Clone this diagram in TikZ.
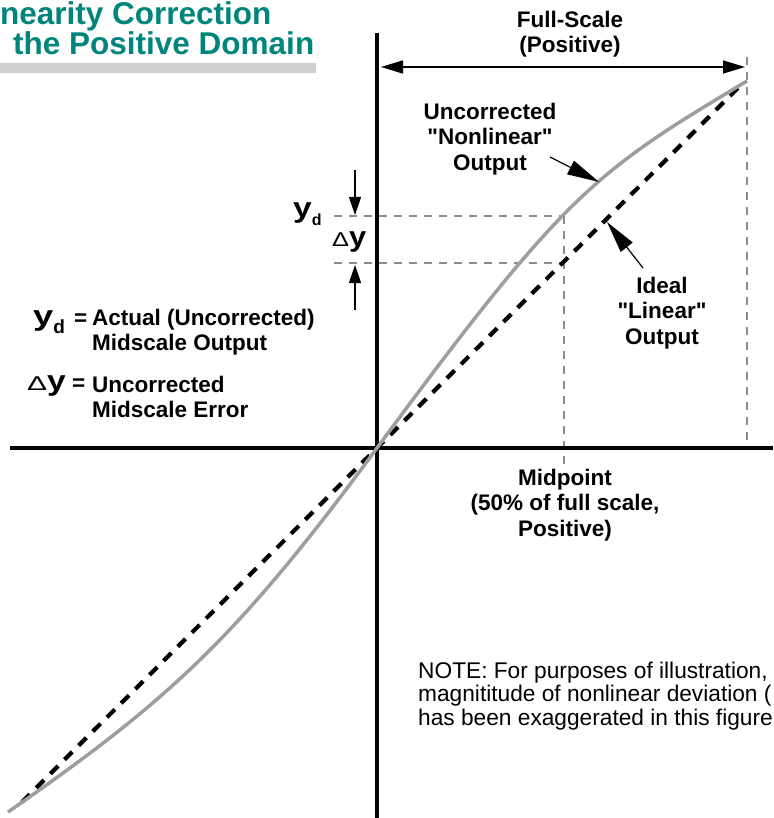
\documentclass[tikz,border=0pt]{standalone}
\usepackage{fontspec}
\setmainfont{Liberation Sans}[Ligatures=TeXOff]
\usepackage{graphicx}
\usetikzlibrary{arrows.meta}
\definecolor{titleteal}{RGB}{0,133,122}
\definecolor{barg}{RGB}{206,206,206}
\definecolor{curveg}{RGB}{158,158,158}
\definecolor{guideg}{RGB}{140,140,140}
\begin{document}
\begin{tikzpicture}[x=1pt,y=-1pt,
  lbl/.style={font=\fontsize{22.5}{25.5}\selectfont\bfseries, align=center, inner sep=0pt},
  legtext/.style={font=\fontsize{22.5}{25}\selectfont\bfseries, align=left, inner sep=0pt},
  sym/.style={font=\bfseries, inner sep=0pt},
  titletext/.style={font=\fontsize{31.5}{31.5}\selectfont\bfseries, text=titleteal, inner sep=0pt},
  notetext/.style={font=\fontsize{22.7}{23.5}\selectfont, align=left, inner sep=0pt},
  axisline/.style={line width=3.5pt},
  guide/.style={draw=guideg, line width=1.4pt, dash pattern=on 8pt off 7pt},
  idealline/.style={line width=4.2pt, dash pattern=on 11pt off 9pt},
  nonlin/.style={draw=curveg, line width=3.5pt},
  pointer/.style={line width=1.2pt, -{Triangle[length=32pt,width=15pt]}},
  dimarrow/.style={line width=1.2pt, -{Triangle[length=18pt,width=12pt]}},
  fsarrow/.style={line width=1.5pt, {Triangle[length=22pt,width=13pt]}-{Triangle[length=22pt,width=13pt]}}
]
\useasboundingbox (0,0) rectangle (773,818);
\clip (0,0) rectangle (773,818);

% title
\node[titletext, anchor=base west] (title1) at (0,25) {nearity Correction};
\node[titletext, anchor=base west] (title2) at (13,55) {the Positive Domain};
\fill[barg] (0,63) rectangle (316,73);

% guide lines
\coordinate (fsTop) at (747,57);
\coordinate (fsAxis) at (747,448);
\coordinate (midTop) at (564,216);
\coordinate (midBot) at (564,466);
\coordinate (ydL) at (334,216);
\coordinate (ideL) at (334,263);
\coordinate (ideR) at (564,263);
\draw[guide] (fsTop) -- (fsAxis);
\draw[guide] (midTop) -- (midBot);
\draw[guide] (ydL) -- (midTop);
\draw[guide] (ideL) -- (ideR);

% axes
\coordinate (vTop) at (377,33);
\coordinate (vBot) at (377,820);
\coordinate (hL) at (10,448);
\coordinate (hR) at (775,448);
\draw[axisline] (vTop) -- (vBot);
\draw[axisline] (hL) -- (hR);

% ideal line
\coordinate (idealA) at (22,802);
\coordinate (idealB) at (740,86);
\draw[idealline] (idealA) -- (idealB);

% nonlinear curve
\coordinate (curveS) at (8,812);
\coordinate (curveO) at (377,448);
\coordinate (curveE) at (747,81);
\draw[nonlin] (curveS) .. controls (168,701) and (237,638.4) .. (curveO)
  .. controls (567,189.6) and (597,171) .. (curveE);

% full scale arrow
\coordinate (fsL) at (381,67);
\coordinate (fsR) at (745,67);
\draw[fsarrow] (fsL) -- (fsR);
\node[lbl, anchor=north] (fslab) at (570,10.6) {Full-Scale\\(Positive)};

% nonlinear label and pointer
\node[lbl, anchor=north] (nllab) at (490,102.6) {Uncorrected\\"Nonlinear"\\Output};
\coordinate (nlTail) at (550,157);
\coordinate (nlTip) at (599,182);
\draw[pointer] (nlTail) -- (nlTip);

% ideal label and pointer
\node[lbl, anchor=north] (idlab) at (662,276.6) {Ideal\\"Linear"\\Output};
\coordinate (idTail) at (643,268);
\coordinate (idTip) at (607,222);
\draw[pointer] (idTail) -- (idTip);

% midpoint label
\node[lbl, anchor=north] (midlab) at (565,468.6) {Midpoint\\(50\% of full scale,\\Positive)};

% yd and delta y near axis
\coordinate (dnTail) at (355,170);
\coordinate (dnTip) at (355,215);
\coordinate (upTail) at (355,310);
\coordinate (upTip) at (355,265);
\draw[dimarrow] (dnTail) -- (dnTip);
\draw[dimarrow] (upTail) -- (upTip);
\node[sym, anchor=base west] (ydax) at (293,218) {{\fontsize{28}{28}\selectfont\scalebox{1.2}[1]{y}}\raisebox{-8pt}{\fontsize{16}{16}\selectfont d}};
\node[sym, anchor=base west] (dyax) at (332,247) {{\fontsize{20}{20}\selectfont\mdseries\scalebox{1.27}[1]{Δ}}{\fontsize{28}{28}\selectfont\scalebox{1.1}[1]{y}}};

% legend
\node[sym, anchor=base west] (legyd) at (33,325) {{\fontsize{28}{28}\selectfont\scalebox{1.3}[1]{y}}\raisebox{-8pt}{\fontsize{19}{19}\selectfont d}};
\node[sym, anchor=base west, font=\fontsize{22.5}{22.5}\selectfont\bfseries] (legeq1) at (74,325) {=};
\node[legtext, anchor=north west] (legtxt1) at (92,308.6) {Actual (Uncorrected)\\Midscale Output};
\node[sym, anchor=base west] (legdy) at (27,390) {{\fontsize{20}{20}\selectfont\mdseries\scalebox{1.5}[1]{Δ}}{\fontsize{28}{28}\selectfont\scalebox{1.2}[1]{y}}};
\node[sym, anchor=base west, font=\fontsize{22.5}{22.5}\selectfont\bfseries] (legeq2) at (72,390) {=};
\node[legtext, anchor=north west] (legtxt2) at (92,375.6) {Uncorrected\\Midscale Error};

% note
\node[notetext, anchor=north west] (note) at (418,661.7) {NOTE: For purposes of illustration,\\magnititude of nonlinear deviation (\\has been exaggerated in this figure};
\end{tikzpicture}
\end{document}
